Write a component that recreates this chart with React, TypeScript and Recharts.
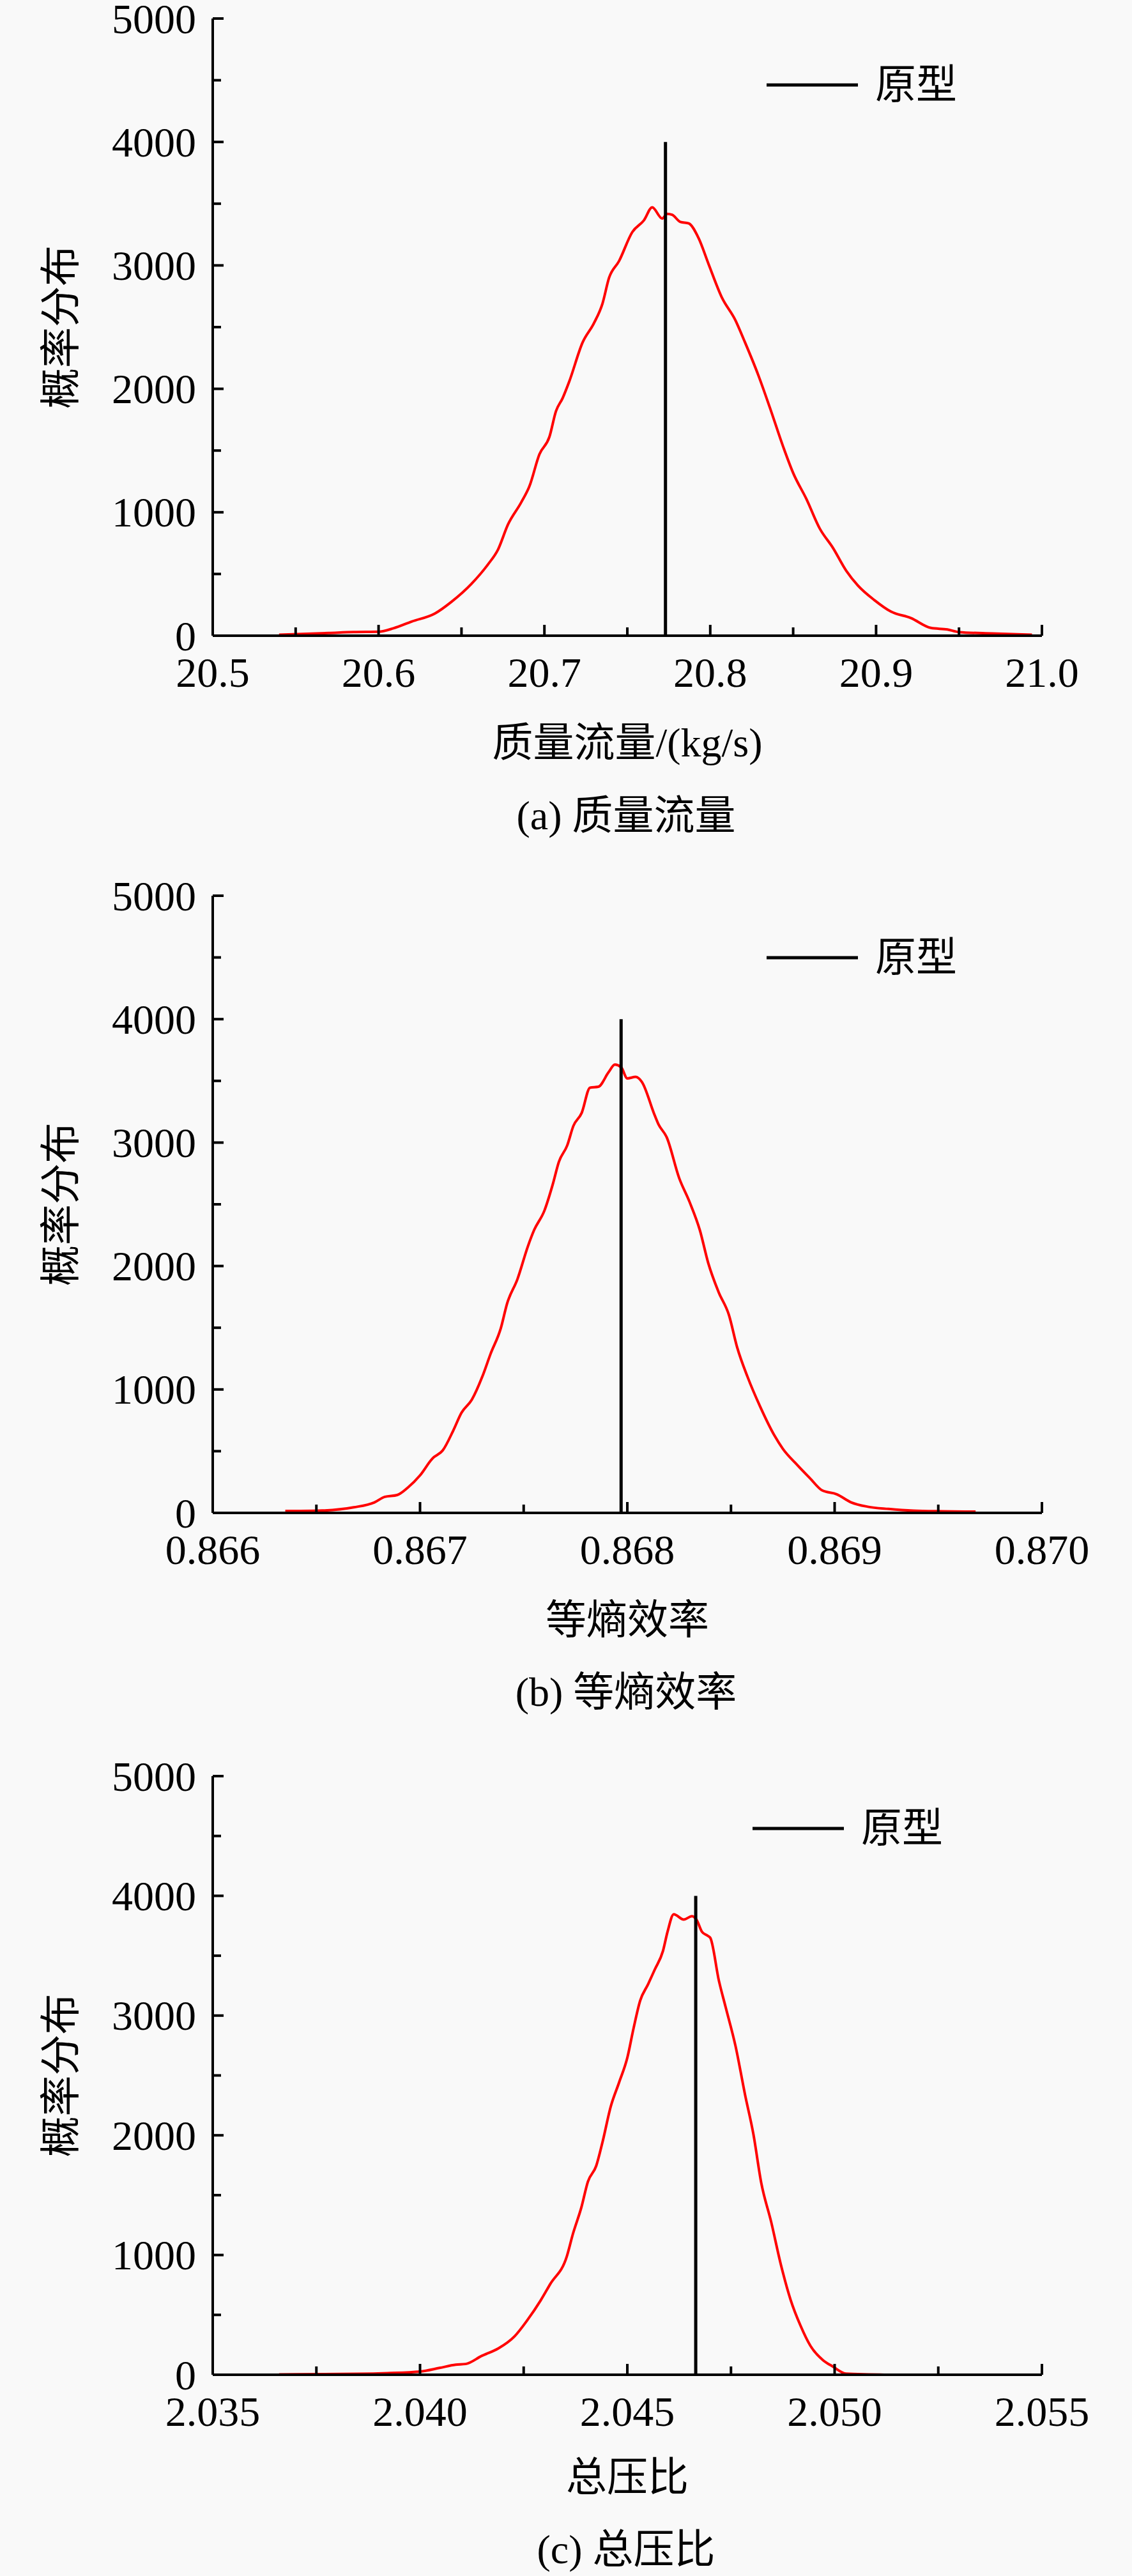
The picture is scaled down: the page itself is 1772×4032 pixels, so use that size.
import React from 'react';
import { LineChart, Line, XAxis, YAxis, ReferenceLine, Legend, Label } from 'recharts';

const FONT = "'Liberation Serif', 'Noto Sans CJK SC', serif";

// (a) 质量流量
const massFlowX = [
  20.54, 20.57, 20.585, 20.6, 20.609, 20.62, 20.634, 20.644, 20.656, 20.666, 20.672, 20.678,
  20.686, 20.691, 20.697, 20.703, 20.707, 20.711, 20.715, 20.723, 20.73, 20.735, 20.739, 20.745,
  20.753, 20.76, 20.765, 20.771, 20.774, 20.777, 20.782, 20.787, 20.793, 20.799, 20.807, 20.815,
  20.821, 20.829, 20.836, 20.844, 20.85, 20.858, 20.866, 20.874, 20.882, 20.889, 20.899, 20.909,
  20.921, 20.933, 20.943, 20.95, 20.97, 20.994,
];
const massFlowY = [
  8, 22, 30, 32, 60, 115, 180, 275, 420, 578, 697, 900,
  1080, 1212, 1470, 1610, 1820, 1925, 2060, 2375, 2535, 2690, 2900, 3035,
  3270, 3365, 3470, 3380, 3418, 3410, 3352, 3340, 3220, 3010, 2740, 2560,
  2375, 2110, 1846, 1530, 1318, 1107, 869, 711, 526, 407, 288, 195,
  143, 63, 50, 29, 18, 8,
];
const massFlowTicks = [20.5, 20.55, 20.6, 20.65, 20.7, 20.75, 20.8, 20.85, 20.9, 20.95, 21.0];
const massFlowProto = 20.773;

// (b) 等熵效率
const effX = [
  0.86635, 0.86651, 0.86668, 0.86678, 0.86683, 0.86689, 0.86694, 0.867, 0.86706, 0.86711,
  0.86716, 0.8672, 0.86725, 0.8673, 0.86734, 0.86739, 0.86742, 0.86747, 0.86752, 0.86755,
  0.8676, 0.86764, 0.86767, 0.86771, 0.86774, 0.86778, 0.86782, 0.86786, 0.86791, 0.86794,
  0.86797, 0.868, 0.86804, 0.86807, 0.86813, 0.86815, 0.86819, 0.86825, 0.8683, 0.86835,
  0.86839, 0.86844, 0.86849, 0.86853, 0.86858, 0.86864, 0.86871, 0.86875, 0.86882, 0.86888,
  0.86894, 0.86901, 0.86908, 0.86916, 0.86926, 0.86938, 0.86952, 0.86968,
];
const effY = [
  15, 18, 45, 85, 130, 145, 203, 304, 441, 507,
  666, 811, 917, 1102, 1287, 1498, 1696, 1894, 2158, 2290,
  2449, 2660, 2845, 2977, 3136, 3241, 3445, 3452, 3571, 3632,
  3611, 3520, 3532, 3492, 3230, 3149, 3043, 2713, 2520, 2290,
  2026, 1790, 1604, 1340, 1102, 864, 626, 520, 388, 283,
  182, 151, 85, 50, 32, 18, 13, 10,
];
const effTicks = [0.866, 0.8665, 0.867, 0.8675, 0.868, 0.8685, 0.869, 0.8695, 0.87];
const effProto = 0.86797;

// (c) 总压比
const prX = [
  2.0366, 2.03851, 2.03921, 2.04, 2.04047, 2.04086, 2.0411, 2.04149, 2.04189, 2.04228,
  2.04259, 2.04291, 2.04314, 2.04354, 2.04369, 2.04389, 2.04405, 2.04425, 2.0444, 2.0446,
  2.0448, 2.045, 2.04515, 2.04531, 2.0455, 2.04566, 2.04586, 2.04597, 2.04612, 2.04636,
  2.04656, 2.04667, 2.0468, 2.04692, 2.047, 2.04721, 2.04737, 2.04761, 2.04784, 2.04804,
  2.04823, 2.04847, 2.0487, 2.04894, 2.04918, 2.04941, 2.04972, 2.04996, 2.05027, 2.05082,
  2.0512,
];
const prY = [
  3, 8, 14, 27, 57, 84, 90, 158, 220, 321,
  457, 621, 757, 988, 1179, 1396, 1614, 1745, 1941, 2240,
  2440, 2648, 2893, 3125, 3261, 3383, 3540, 3700, 3846, 3802,
  3830, 3800, 3700, 3670, 3650, 3289, 3072, 2745, 2338, 2011,
  1603, 1276, 925, 624, 408, 245, 122, 68, 10, 3,
  0,
];
const prTicks = [2.035, 2.0375, 2.04, 2.0425, 2.045, 2.0475, 2.05, 2.0525, 2.055];
const prProto = 2.04665;

const yTicks = [0, 500, 1000, 1500, 2000, 2500, 3000, 3500, 4000, 4500, 5000];
const protoTop = 4000;

const zip = (xs: number[], ys: number[]) => xs.map((x, i) => ({ x, y: ys[i] }));

const PLOT_LEFT = 333;
const PLOT_RIGHT = 1631;
const Y_AXIS_W = 60;
const X_AXIS_H = 30;

const XTick = (props: any) => {
  const { x, y, payload, index, decimals } = props;
  const major = index % 2 === 0;
  return (
    <g>
      <line x1={x} y1={y} x2={x} y2={y - (major ? 17 : 13)} stroke="#000" strokeWidth={4} />
      {major && (
        <text
          x={x}
          y={y + 57}
          textAnchor="middle"
          dominantBaseline="central"
          fontSize={66}
          fontFamily={FONT}
          fill="#000"
        >
          {Number(payload.value).toFixed(decimals)}
        </text>
      )}
    </g>
  );
};

const YTick = (props: any) => {
  const { x, y, payload, index } = props;
  const major = index % 2 === 0;
  return (
    <g>
      <line x1={x} y1={y} x2={x + (major ? 17 : 13)} y2={y} stroke="#000" strokeWidth={4} />
      {major && (
        <text
          x={x - 26}
          y={y}
          textAnchor="end"
          dominantBaseline="central"
          fontSize={66}
          fontFamily={FONT}
          fill="#000"
        >
          {payload.value}
        </text>
      )}
    </g>
  );
};

const ProtoLegend = () => (
  <div style={{ display: 'flex', alignItems: 'center', height: 80 }}>
    <svg width={143} height={10} style={{ display: 'block' }}>
      <line x1={0} y1={5} x2={143} y2={5} stroke="#000" strokeWidth={5} />
    </svg>
    <span style={{ marginLeft: 27, fontSize: 64, fontFamily: FONT, lineHeight: '80px', color: '#000' }}>
      原型
    </span>
  </div>
);

interface PanelProps {
  top: number;
  height: number;
  plotTop: number;
  plotBottom: number;
  xs: number[];
  ys: number[];
  ticks: number[];
  decimals: number;
  proto: number;
  xTitle: string;
  titleOffset: number;
  caption: string;
  captionOffset: number;
  legendX: number;
  legendY: number;
}

const Panel: React.FC<PanelProps> = ({
  top,
  height,
  plotTop,
  plotBottom,
  xs,
  ys,
  ticks,
  decimals,
  proto,
  xTitle,
  titleOffset,
  caption,
  captionOffset,
  legendX,
  legendY,
}) => {
  const data = zip(xs, ys);
  const margin = {
    top: plotTop - top,
    bottom: top + height - plotBottom - X_AXIS_H,
    left: PLOT_LEFT - Y_AXIS_W,
    right: 1772 - PLOT_RIGHT,
  };

  const renderXTitle = (p: any) => {
    const vb = p.viewBox;
    const cx = vb.x + vb.width / 2;
    return (
      <g>
        <text x={cx} y={vb.y + titleOffset} textAnchor="middle" dominantBaseline="central" fontSize={64} fontFamily={FONT} fill="#000">
          {xTitle}
        </text>
        <text x={cx - 2} y={vb.y + captionOffset} textAnchor="middle" dominantBaseline="central" fontSize={64} fontFamily={FONT} fill="#000">
          {caption}
        </text>
      </g>
    );
  };

  const renderYTitle = (p: any) => {
    const vb = p.viewBox;
    const cx = vb.x + vb.width - 238;
    const cy = vb.y + vb.height / 2;
    return (
      <text
        x={cx}
        y={cy}
        transform={`rotate(-90 ${cx} ${cy})`}
        textAnchor="middle"
        dominantBaseline="central"
        fontSize={64}
        fontFamily={FONT}
        fill="#000"
      >
        概率分布
      </text>
    );
  };

  return (
    <div style={{ position: 'absolute', left: 0, top, width: 1772, height }}>
      <LineChart width={1772} height={height} data={data} margin={margin}>
        <XAxis
          dataKey="x"
          type="number"
          domain={[ticks[0], ticks[ticks.length - 1]]}
          ticks={ticks}
          interval={0}
          allowDataOverflow
          height={X_AXIS_H}
          tickSize={0}
          tickMargin={0}
          tickLine={false}
          axisLine={{ stroke: '#000', strokeWidth: 4 }}
          tick={(p: any) => <XTick {...p} decimals={decimals} />}
        >
          <Label content={renderXTitle} />
        </XAxis>
        <YAxis
          type="number"
          domain={[0, 5000]}
          ticks={yTicks}
          interval={0}
          width={Y_AXIS_W}
          tickSize={0}
          tickMargin={0}
          tickLine={false}
          axisLine={{ stroke: '#000', strokeWidth: 4 }}
          tick={(p: any) => <YTick {...p} />}
        >
          <Label content={renderYTitle} />
        </YAxis>
        <Legend
          layout="horizontal"
          align="center"
          verticalAlign="middle"
          content={<ProtoLegend />}
          wrapperStyle={{ left: legendX, top: legendY - top - 40, width: 420, height: 80 }}
        />
        <Line
          type="monotone"
          dataKey="y"
          stroke="#ff0000"
          strokeWidth={4}
          dot={false}
          activeDot={false}
          isAnimationActive={false}
        />
        <ReferenceLine
          segment={[
            { x: proto, y: 0 },
            { x: proto, y: protoTop },
          ]}
          stroke="#000"
          strokeWidth={5}
        />
      </LineChart>
    </div>
  );
};

export default function App() {
  return (
    <div
      style={{
        position: 'absolute',
        left: 0,
        top: 0,
        width: 1772,
        height: 4032,
        background: '#f9f9f9',
        overflow: 'hidden',
      }}
    >
      <Panel
        top={0}
        height={1340}
        plotTop={29}
        plotBottom={995}
        xs={massFlowX}
        ys={massFlowY}
        ticks={massFlowTicks}
        decimals={1}
        proto={massFlowProto}
        xTitle="质量流量/(kg/s)"
        titleOffset={167}
        caption="(a) 质量流量"
        captionOffset={281}
        legendX={1200}
        legendY={133}
      />
      <Panel
        top={1340}
        height={1360}
        plotTop={1402}
        plotBottom={2368}
        xs={effX}
        ys={effY}
        ticks={effTicks}
        decimals={3}
        proto={effProto}
        xTitle="等熵效率"
        titleOffset={167}
        caption="(b) 等熵效率"
        captionOffset={280}
        legendX={1200}
        legendY={1499}
      />
      <Panel
        top={2700}
        height={1332}
        plotTop={2780}
        plotBottom={3717}
        xs={prX}
        ys={prY}
        ticks={prTicks}
        decimals={3}
        proto={prProto}
        xTitle="总压比"
        titleOffset={160}
        caption="(c) 总压比"
        captionOffset={273}
        legendX={1178}
        legendY={2862}
      />
    </div>
  );
}
